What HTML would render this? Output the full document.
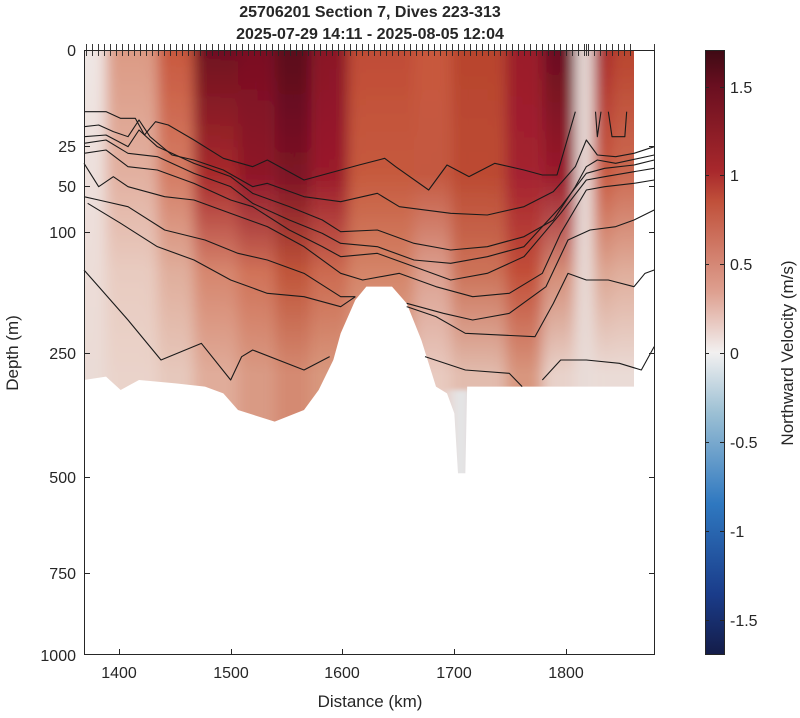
<!DOCTYPE html>
<html><head><meta charset="utf-8"><style>
html,body{margin:0;padding:0;background:#fff;}
svg{display:block;font-family:"Liberation Sans",Arial,sans-serif;}
</style></head><body>
<svg width="800" height="718" viewBox="0 0 800 718" xmlns="http://www.w3.org/2000/svg">
<defs>
<clipPath id="dm"><polygon points="0,30 0,1020 60,1010 100,1050 150,1020 250,1030 330,1040 380,1060 420,1110 520,1145 600,1110 640,1050 680,960 700,880 740,780 770,740 840,740 880,790 920,900 960,1040 990,1060 1010,1120 1020,1300 1040,1300 1045,1040 1500,1040 1500,30"/></clipPath>
<filter id="bl" x="-5%" y="-5%" width="110%" height="110%"><feGaussianBlur stdDeviation="18 6"/></filter>
<linearGradient id="cb" x1="0" y1="0" x2="0" y2="1">
<stop offset="0" stop-color="#3e0a14"/><stop offset="0.06" stop-color="#6a0f20"/><stop offset="0.2" stop-color="#a8282c"/><stop offset="0.25" stop-color="#c0503a"/><stop offset="0.4" stop-color="#dea090"/><stop offset="0.5" stop-color="#f2f0f0"/><stop offset="0.6" stop-color="#9cc0d4"/><stop offset="0.75" stop-color="#2f78c0"/><stop offset="0.9" stop-color="#1a3c8a"/><stop offset="1" stop-color="#141c48"/>
</linearGradient>
<linearGradient id="c0" x1="0" y1="0" x2="0" y2="1"><stop offset="0.06" stop-color="#efe6e4"/><stop offset="0.33" stop-color="#ede0dc"/><stop offset="0.54" stop-color="#ecddd8"/><stop offset="0.76" stop-color="#eadbd6"/></linearGradient>
<linearGradient id="c1" x1="0" y1="0" x2="0" y2="1"><stop offset="0.06" stop-color="#dc9a84"/><stop offset="0.33" stop-color="#e2b0a0"/><stop offset="0.54" stop-color="#e8cbc0"/><stop offset="0.76" stop-color="#ead3ca"/></linearGradient>
<linearGradient id="c2" x1="0" y1="0" x2="0" y2="1"><stop offset="0.06" stop-color="#c8583e"/><stop offset="0.33" stop-color="#d47c64"/><stop offset="0.54" stop-color="#e0ae9c"/><stop offset="0.76" stop-color="#e6c8bc"/></linearGradient>
<linearGradient id="c3" x1="0" y1="0" x2="0" y2="1"><stop offset="0.06" stop-color="#6e0f20"/><stop offset="0.33" stop-color="#a82a2c"/><stop offset="0.54" stop-color="#d6866e"/><stop offset="0.76" stop-color="#e0ac9a"/></linearGradient>
<linearGradient id="c4" x1="0" y1="0" x2="0" y2="1"><stop offset="0.06" stop-color="#7a1023"/><stop offset="0.33" stop-color="#8e1428"/><stop offset="0.54" stop-color="#d07258"/><stop offset="0.76" stop-color="#d99a84"/></linearGradient>
<linearGradient id="c5" x1="0" y1="0" x2="0" y2="1"><stop offset="0.06" stop-color="#5a0e1c"/><stop offset="0.33" stop-color="#7e1225"/><stop offset="0.54" stop-color="#c0553a"/><stop offset="0.76" stop-color="#d48a72"/></linearGradient>
<linearGradient id="c6" x1="0" y1="0" x2="0" y2="1"><stop offset="0.06" stop-color="#8a1428"/><stop offset="0.33" stop-color="#9a1a2a"/><stop offset="0.54" stop-color="#cc6a50"/><stop offset="0.76" stop-color="#d8987e"/></linearGradient>
<linearGradient id="c7" x1="0" y1="0" x2="0" y2="1"><stop offset="0.06" stop-color="#c04c36"/><stop offset="0.33" stop-color="#c65a3e"/><stop offset="0.54" stop-color="#d48468"/><stop offset="0.76" stop-color="#e0ac98"/></linearGradient>
<linearGradient id="c8" x1="0" y1="0" x2="0" y2="1"><stop offset="0.06" stop-color="#c8583e"/><stop offset="0.33" stop-color="#c45840"/><stop offset="0.54" stop-color="#dca090"/><stop offset="0.76" stop-color="#e8cac0"/></linearGradient>
<linearGradient id="c9" x1="0" y1="0" x2="0" y2="1"><stop offset="0.06" stop-color="#b8442e"/><stop offset="0.33" stop-color="#bc4a32"/><stop offset="0.54" stop-color="#cc7258"/><stop offset="0.76" stop-color="#e2bcae"/></linearGradient>
<linearGradient id="c10" x1="0" y1="0" x2="0" y2="1"><stop offset="0.06" stop-color="#9a1a2a"/><stop offset="0.33" stop-color="#a42230"/><stop offset="0.54" stop-color="#c24e38"/><stop offset="0.76" stop-color="#d8967e"/></linearGradient>
<linearGradient id="c11" x1="0" y1="0" x2="0" y2="1"><stop offset="0.06" stop-color="#6a0f20"/><stop offset="0.33" stop-color="#9a1a2a"/><stop offset="0.54" stop-color="#d48c76"/><stop offset="0.76" stop-color="#e8d2ca"/></linearGradient>
<linearGradient id="c12" x1="0" y1="0" x2="0" y2="1"><stop offset="0.06" stop-color="#a8282c"/><stop offset="0.33" stop-color="#c8583e"/><stop offset="0.54" stop-color="#dca490"/><stop offset="0.76" stop-color="#eadbd6"/></linearGradient>
<linearGradient id="c13" x1="0" y1="0" x2="0" y2="1"><stop offset="0.06" stop-color="#b8442e"/><stop offset="0.33" stop-color="#cc6a52"/><stop offset="0.54" stop-color="#e0ae9c"/><stop offset="0.76" stop-color="#eadbd6"/></linearGradient>
</defs>
<g transform="translate(84,40) scale(0.36667,0.33333)">
<g clip-path="url(#dm)"><g filter="url(#bl)">
<rect x="-60" y="-60" width="120" height="1400" fill="url(#c0)"/>
<rect x="60" y="-60" width="140" height="1400" fill="url(#c1)"/>
<rect x="200" y="-60" width="100" height="1400" fill="url(#c2)"/>
<rect x="300" y="-60" width="120" height="1400" fill="url(#c3)"/>
<rect x="420" y="-60" width="100" height="1400" fill="url(#c4)"/>
<rect x="520" y="-60" width="100" height="1400" fill="url(#c5)"/>
<rect x="620" y="-60" width="100" height="1400" fill="url(#c6)"/>
<rect x="720" y="-60" width="180" height="1400" fill="url(#c7)"/>
<rect x="900" y="-60" width="100" height="1400" fill="url(#c8)"/>
<rect x="1000" y="-60" width="150" height="1400" fill="url(#c9)"/>
<rect x="1150" y="-60" width="100" height="1400" fill="url(#c10)"/>
<rect x="1250" y="-60" width="90" height="1400" fill="url(#c11)"/>
<rect x="1340" y="-60" width="50" height="1400" fill="#e8dcd8"/>
<rect x="1390" y="-60" width="50" height="1400" fill="url(#c12)"/>
<rect x="1440" y="-60" width="120" height="1400" fill="url(#c13)"/>
<rect x="1000" y="1050" width="60" height="300" fill="#e4e6e8"/>
</g></g>
<g fill="none" stroke="#1a1a1a" stroke-width="1.1" stroke-linejoin="round">
<polyline vector-effect="non-scaling-stroke" points="0,215 60,215 100,235 140,235 165,285 195,245 230,255 300,300 380,355 460,380 500,360 600,420 750,375 820,355 850,380 940,450 990,375 1050,410 1120,370 1200,390 1250,405 1290,405 1340,215"/>
<polyline vector-effect="non-scaling-stroke" points="1395,215 1400,290 1410,215"/>
<polyline vector-effect="non-scaling-stroke" points="1430,215 1440,290 1475,290 1480,215"/>
<polyline vector-effect="non-scaling-stroke" points="0,260 40,255 80,275 120,290 150,240 180,290 240,345 300,360 380,390 460,440 500,430 600,470 700,485 800,460 860,500 1000,520 1100,525 1200,500 1280,455 1340,380 1370,300 1400,345 1450,350 1500,340 1555,320"/>
<polyline vector-effect="non-scaling-stroke" points="0,290 60,285 120,320 150,270 200,320 300,370 400,410 460,460 560,500 650,540 700,575 800,570 900,610 1000,630 1100,620 1200,590 1280,540 1340,440 1370,380 1400,360 1450,370 1555,345"/>
<polyline vector-effect="non-scaling-stroke" points="0,310 60,300 120,340 200,350 300,400 400,440 460,490 560,540 650,580 700,610 800,620 900,660 1000,670 1100,650 1200,620 1300,500 1370,400 1420,385 1500,375 1555,360"/>
<polyline vector-effect="non-scaling-stroke" points="0,340 60,330 120,380 200,390 300,430 400,480 460,500 560,570 650,620 700,650 800,640 900,680 1000,720 1100,700 1200,650 1300,520 1370,420 1420,410 1500,395 1555,385"/>
<polyline vector-effect="non-scaling-stroke" points="0,370 40,440 80,410 120,440 220,470 300,480 400,520 500,560 600,620 700,700 760,720 860,700 960,740 1060,770 1160,760 1250,700 1300,580 1370,450 1420,440 1500,430 1555,420"/>
<polyline vector-effect="non-scaling-stroke" points="0,470 40,480 120,500 220,570 330,600 420,640 500,660 600,700 700,770 740,770"/>
<polyline vector-effect="non-scaling-stroke" points="880,790 980,820 1060,840 1160,820 1260,740 1320,600 1380,570 1450,560 1500,540 1555,510"/>
<polyline vector-effect="non-scaling-stroke" points="10,490 100,550 200,620 300,660 400,720 500,760 600,770 700,800 740,770"/>
<polyline vector-effect="non-scaling-stroke" points="880,800 960,830 1040,880 1230,890 1280,790 1320,700 1370,720 1430,720 1500,740 1530,700 1555,690"/>
<polyline vector-effect="non-scaling-stroke" points="0,690 40,740 120,840 210,960 320,910 400,1020 430,950 460,930 600,990 670,950"/>
<polyline vector-effect="non-scaling-stroke" points="930,950 1040,990 1160,1000 1195,1040"/>
<polyline vector-effect="non-scaling-stroke" points="1250,1020 1300,960 1370,960 1460,970 1520,990 1555,920"/>
</g>
</g>
<rect x="84.5" y="50.5" width="570" height="604" fill="none" stroke="#262626" stroke-width="1"/>
<g stroke="#262626" stroke-width="1">
<path d="M84,146.5h6M84,186.5h6M84,232.5h6M84,353.5h6M84,477.5h6M84,573.5h6M655,146.5h-6M655,186.5h-6M655,232.5h-6M655,353.5h-6M655,477.5h-6M655,573.5h-6"/>
<path d="M119.5,655v-6M231.5,655v-6M342.5,655v-6M454.5,655v-6M566.5,655v-6"/>
<path d="M86.5,44v12M92.5,44v12M98.5,44v12M104.5,44v12M110.5,44v12M116.5,44v12M122.5,44v12M128.5,44v12M134.5,44v12M140.5,44v12M146.5,44v12M152.5,44v12M158.5,44v12M164.5,44v12M170.5,44v12M176.5,44v12M182.5,44v12M188.5,44v12M194.5,44v12M200.5,44v12M206.5,44v12M212.5,44v12M218.5,44v12M224.5,44v12M230.5,44v12M236.5,44v12M242.5,44v12M248.5,44v12M254.5,44v12M260.5,44v12M266.5,44v12M272.5,44v12M278.5,44v12M284.5,44v12M290.5,44v12M296.5,44v12M302.5,44v12M308.5,44v12M314.5,44v12M320.5,44v12M326.5,44v12M332.5,44v12M338.5,44v12M344.5,44v12M350.5,44v12M356.5,44v12M362.5,44v12M368.5,44v12M374.5,44v12M380.5,44v12M386.5,44v12M392.5,44v12M398.5,44v12M404.5,44v12M410.5,44v12M416.5,44v12M422.5,44v12M428.5,44v12M434.5,44v12M440.5,44v12M446.5,44v12M452.5,44v12M458.5,44v12M464.5,44v12M470.5,44v12M476.5,44v12M482.5,44v12M488.5,44v12M494.5,44v12M500.5,44v12M506.5,44v12M512.5,44v12M518.5,44v12M524.5,44v12M530.5,44v12M536.5,44v12M542.5,44v12M548.5,44v12M554.5,44v12M560.5,44v12M566.5,44v12M572.5,44v12M578.5,44v12M584.5,44v12M586.5,44v12M588.5,44v12M594.5,44v12M600.5,44v12M606.5,44v12M612.5,44v12M618.5,44v12M624.5,44v12M630.5,44v12M654.5,44v12" stroke-width="0.9"/>
</g>
<g font-size="16" fill="#262626" text-anchor="end">
<text x="76" y="56">0</text><text x="76" y="152">25</text><text x="76" y="192">50</text><text x="76" y="238">100</text><text x="76" y="359">250</text><text x="76" y="483">500</text><text x="76" y="579">750</text><text x="76" y="661">1000</text>
</g>
<g font-size="16" fill="#262626" text-anchor="middle">
<text x="119" y="678">1400</text><text x="231" y="678">1500</text><text x="342" y="678">1600</text><text x="454" y="678">1700</text><text x="566" y="678">1800</text>
<text x="370" y="707" font-size="17">Distance (km)</text>
<text transform="translate(18,353) rotate(-90)" font-size="17">Depth (m)</text>
<text x="370" y="17" font-weight="bold">25706201 Section 7, Dives 223-313</text>
<text x="370" y="39" font-weight="bold">2025-07-29 14:11 - 2025-08-05 12:04</text>
</g>
<rect x="705" y="50" width="19" height="605" fill="url(#cb)"/>
<rect x="705.5" y="50.5" width="19" height="604" fill="none" stroke="#262626"/>
<g stroke="#262626"><path d="M705,87.5h4M705,175.5h4M705,264.5h4M705,353.5h4M705,442.5h4M705,531.5h4M705,620.5h4M724,87.5h-4M724,175.5h-4M724,264.5h-4M724,353.5h-4M724,442.5h-4M724,531.5h-4M724,620.5h-4"/></g>
<g font-size="16" fill="#262626">
<text x="730" y="93">1.5</text><text x="730" y="181">1</text><text x="730" y="270">0.5</text><text x="730" y="359">0</text><text x="730" y="448">-0.5</text><text x="730" y="537">-1</text><text x="730" y="626">-1.5</text>
<text transform="translate(793,353) rotate(-90)" text-anchor="middle" font-size="17">Northward Velocity (m/s)</text>
</g>
</svg>
</body></html>
